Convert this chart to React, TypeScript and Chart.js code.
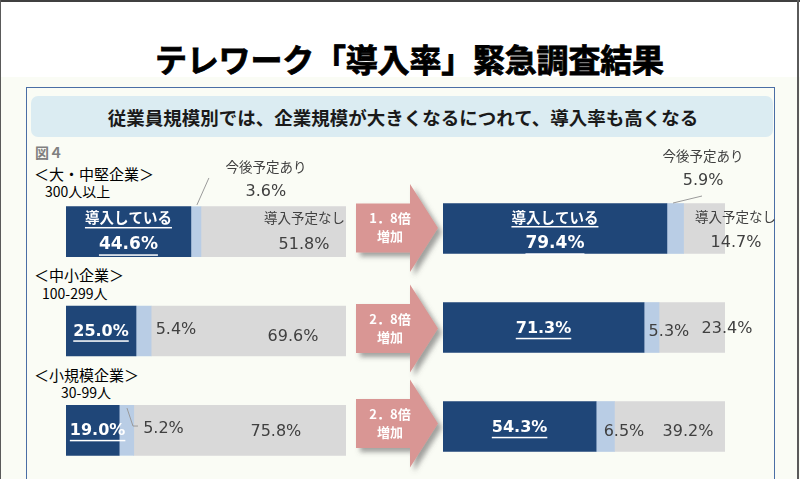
import React, { useEffect, useRef } from 'react';
import { Chart, registerables } from 'chart.js';
Chart.register(...registerables);

// ---------- data ----------
const categories = ['大・中堅企業', '中小企業', '小規模企業'];
const categoryHeads = ['＜大・中堅企業＞', '＜中小企業＞', '＜小規模企業＞'];
const sizeLabels = ['300人以上', '100-299人', '30-99人'];
const seriesNames = ['導入している', '今後予定あり', '導入予定なし'];
const beforeIntroduced = [44.6, 25.0, 19.0];
const beforePlanned = [3.6, 5.4, 5.2];
const beforeNone = [51.8, 69.6, 75.8];
const afterIntroduced = [79.4, 71.3, 54.3];
const afterPlanned = [5.9, 5.3, 6.5];
const afterNone = [14.7, 23.4, 39.2];
const ratioLabels = ['1．8倍', '2．8倍', '2．8倍'];
const ratioNote = '増加';
const figLabel = '図４';
const titleText = 'テレワーク「導入率」緊急調査結果';
const subtitleText = '従業員規模別では、企業規模が大きくなるにつれて、導入率も高くなる';

// ---------- styles / layout ----------
const COLORS = ['#1f4678', '#b9cde5', '#d9d9d9'];
const JP = '"Noto Sans CJK JP", "Noto Sans", sans-serif';
const NUM = '"DejaVu Sans", "Noto Sans", sans-serif';

type Off = { dx: number; dy: number };
// number label offsets from segment centre [dataset][category]
const leftNumPos: Off[][] = [
  [{ dx: 0, dy: 13.3 }, { dx: 0, dy: 0.5 }, { dx: 5, dy: 0.7 }],
  [{ dx: 70, dy: -39.7 }, { dx: 32.4, dy: -1 }, { dx: 37, dy: -1.3 }],
  [{ dx: 30.5, dy: 13.3 }, { dx: 44.4, dy: 6 }, { dx: 36, dy: 1.4 }],
];
const leftNamePos: Off[] = [{ dx: 0, dy: -13.7 }, { dx: 70, dy: -64.7 }, { dx: 31, dy: -13.7 }];
const leftLeaders: { ds: number; cat: number; pts: number[][] }[] = [
  { ds: 1, cat: 0, pts: [[13, -53.7], [1, -26.7]] },
  { ds: 1, cat: 2, pts: [[0.5, -22.3], [6.5, -4.3], [11.5, -4.3]] },
];
const rightNumPos: Off[][] = [
  [{ dx: 0, dy: 15.5 }, { dx: 0, dy: 1.5 }, { dx: 0, dy: 1.5 }],
  [{ dx: 27.8, dy: -47.5 }, { dx: 17.4, dy: 4 }, { dx: 18.7, dy: 5.5 }],
  [{ dx: 31.7, dy: 14.5 }, { dx: 35, dy: 1.5 }, { dx: 18.3, dy: 5 }],
];
const rightNamePos: Off[] = [{ dx: 0, dy: -11.5 }, { dx: 27.8, dy: -72.5 }, { dx: 31.2, dy: -11.5 }];
const rightLeaders: { ds: number; cat: number; pts: number[][] }[] = [
  { ds: 1, cat: 0, pts: [[26.8, -32.5], [-2.2, -25.5]] },
];

function makeLabelPlugin(numPos: Off[][], namePos: Off[], leaders: { ds: number; cat: number; pts: number[][] }[], bigFirst: boolean) {
  return {
    id: 'segLabels',
    afterDatasetsDraw(chart: any) {
      const ctx: CanvasRenderingContext2D = chart.ctx;
      ctx.save();
      chart.data.datasets.forEach((ds: any, di: number) => {
        const meta = chart.getDatasetMeta(di);
        meta.data.forEach((el: any, ci: number) => {
          const p = el.getProps(['x', 'y', 'base'], true);
          const cx = (p.x + p.base) / 2;
          const cy = p.y;
          leaders.filter((l) => l.ds === di && l.cat === ci).forEach((l) => {
            ctx.strokeStyle = '#9a9a9a';
            ctx.lineWidth = 1;
            ctx.beginPath();
            l.pts.forEach((pt, k) => {
              if (k === 0) ctx.moveTo(cx + pt[0], cy + pt[1]);
              else ctx.lineTo(cx + pt[0], cy + pt[1]);
            });
            ctx.stroke();
          });
          const val = (ds.data[ci] as number).toFixed(1) + '%';
          const o = numPos[di][ci];
          const tx = cx + o.dx;
          const ty = cy + o.dy;
          ctx.textAlign = 'center';
          ctx.textBaseline = 'middle';
          if (di === 0) {
            const size = ci === 0 && bigFirst ? 17 : 16;
            ctx.font = `bold ${size}px ${NUM}`;
            ctx.fillStyle = '#ffffff';
            ctx.fillText(val, tx, ty);
            const w = ctx.measureText(val).width;
            ctx.fillRect(tx - w / 2, ty + size * 0.55, w, 1.5);
          } else {
            ctx.font = `16px ${NUM}`;
            ctx.fillStyle = '#404040';
            ctx.fillText(val, tx, ty);
          }
          if (ci === 0) {
            const n = namePos[di];
            const nx = cx + n.dx;
            const ny = cy + n.dy;
            if (di === 0) {
              ctx.font = `bold 14.5px ${JP}`;
              ctx.fillStyle = '#ffffff';
              ctx.fillText(ds.label, nx, ny);
              const w = ctx.measureText(ds.label).width;
              ctx.fillRect(nx - w / 2, ny + 9, w, 1.5);
            } else {
              ctx.font = `13.5px ${JP}`;
              ctx.fillStyle = '#404040';
              ctx.fillText(ds.label, nx, ny);
            }
          }
        });
      });
      ctx.restore();
    },
  };
}

function BarPanel(props: {
  values: number[][];
  left: number;
  top: number;
  width: number;
  height: number;
  padding: { left: number; right: number; top: number; bottom: number };
  numPos: Off[][];
  namePos: Off[];
  leaders: { ds: number; cat: number; pts: number[][] }[];
}) {
  const ref = useRef<HTMLCanvasElement | null>(null);
  useEffect(() => {
    if (!ref.current) return;
    const chart = new Chart(ref.current, {
      type: 'bar',
      data: {
        labels: categories,
        datasets: props.values.map((v, i) => ({
          label: seriesNames[i],
          data: v,
          backgroundColor: COLORS[i],
          borderWidth: 0,
          barThickness: 50,
        })),
      },
      options: {
        indexAxis: 'y',
        responsive: false,
        animation: false,
        layout: { padding: props.padding },
        plugins: { legend: { display: false }, tooltip: { enabled: false } },
        scales: {
          x: { stacked: true, min: 0, max: 100, display: false },
          y: { stacked: true, display: false, offset: true },
        },
      },
      plugins: [makeLabelPlugin(props.numPos, props.namePos, props.leaders, true)],
    } as any);
    return () => chart.destroy();
  }, []);
  return (
    <canvas
      ref={ref}
      width={props.width}
      height={props.height}
      style={{ position: 'absolute', left: props.left, top: props.top, width: props.width, height: props.height }}
    />
  );
}

function Txt(p: { x: number; y: number; size: number; text: string; color?: string; bold?: boolean; align?: 'left' | 'center'; font?: string; extra?: any }) {
  const style: any = {
    position: 'absolute',
    top: p.y - p.size * 0.6,
    fontSize: p.size,
    lineHeight: `${p.size * 1.2}px`,
    fontFamily: p.font || JP,
    fontWeight: p.bold ? 'bold' : 'normal',
    color: p.color || '#000',
    whiteSpace: 'nowrap',
    ...(p.extra || {}),
  };
  style.left = p.x;
  if (p.align === 'center') style.transform = 'translateX(-50%)';
  return <div style={style}>{p.text}</div>;
}

const arrowCenters = [228, 328.5, 423.5];
const headPos = [
  { x: 34, y: 174 },
  { x: 34, y: 275 },
  { x: 34, y: 375 },
];
const sizePos = [
  { x: 45, y: 191 },
  { x: 42, y: 293 },
  { x: 61, y: 392 },
];

export default function App() {
  return (
    <div
      style={{
        position: 'absolute',
        left: 0,
        top: 0,
        width: 800,
        height: 479,
        overflow: 'hidden',
        background: '#ffffff',
      }}
    >
      <div style={{ position: 'absolute', left: 0, top: 77, width: 800, height: 402, background: '#fafcf5' }} />
      <div style={{ position: 'absolute', left: 0, top: 0, width: 800, height: 2, background: '#404040' }} />
      <div style={{ position: 'absolute', left: 0, top: 0, width: 1, height: 479, background: '#5a5a5a' }} />
      <div style={{ position: 'absolute', left: 797, top: 0, width: 2, height: 479, background: '#5a5a5a' }} />
      <div
        style={{
          position: 'absolute',
          left: 26,
          top: 87,
          width: 747,
          height: 420,
          border: '1.5px solid #4a6ea5',
          background: '#fafcf5',
        }}
      />
      <div
        style={{
          position: 'absolute',
          left: 31,
          top: 96,
          width: 742,
          height: 41,
          borderRadius: 7,
          background: '#dbecf2',
        }}
      />
      <Txt x={155} y={58} size={32} text={titleText} bold extra={{ WebkitTextStroke: '0.8px #000', letterSpacing: '-0.2px' }} />
      <Txt x={403} y={117} size={18.5} text={subtitleText} bold align="center" color="#1a1a1a" />
      <Txt x={35} y={152} size={14} text={figLabel} bold color="#808080" />
      {categoryHeads.map((h, i) => (
        <Txt key={'h' + i} x={headPos[i].x} y={headPos[i].y} size={15} text={h} />
      ))}
      {sizeLabels.map((s, i) => (
        <Txt key={'s' + i} x={sizePos[i].x} y={sizePos[i].y} size={14} text={s} />
      ))}
      <BarPanel
        values={[beforeIntroduced, beforePlanned, beforeNone]}
        left={0}
        top={140}
        width={400}
        height={345}
        padding={{ left: 66, right: 54, top: 42, bottom: 5 }}
        numPos={leftNumPos}
        namePos={leftNamePos}
        leaders={leftLeaders}
      />
      <BarPanel
        values={[afterIntroduced, afterPlanned, afterNone]}
        left={400}
        top={140}
        width={400}
        height={345}
        padding={{ left: 43, right: 75, top: 39, bottom: 9 }}
        numPos={rightNumPos}
        namePos={rightNamePos}
        leaders={rightLeaders}
      />
      <svg width={800} height={479} style={{ position: 'absolute', left: 0, top: 0 }}>
        <defs>
          <filter id="sh" x="-20%" y="-20%" width="150%" height="150%">
            <feDropShadow dx="4" dy="4" stdDeviation="2.5" floodColor="#555" floodOpacity="0.55" />
          </filter>
        </defs>
        {arrowCenters.map((cy, i) => (
          <g key={'a' + i}>
            <polygon
              filter="url(#sh)"
              fill="#d99694"
              points={`356,${cy - 24.5} 410,${cy - 24.5} 410,${cy - 44} 438,${cy} 410,${cy + 44} 410,${cy + 24.5} 356,${cy + 24.5}`}
            />
            <text x={390} y={cy - 5} fill="#fff" fontSize={13} fontWeight="bold" textAnchor="middle" fontFamily={JP}>
              {ratioLabels[i]}
            </text>
            <text x={390} y={cy + 13} fill="#fff" fontSize={13} fontWeight="bold" textAnchor="middle" fontFamily={JP}>
              {ratioNote}
            </text>
          </g>
        ))}
      </svg>
    </div>
  );
}
